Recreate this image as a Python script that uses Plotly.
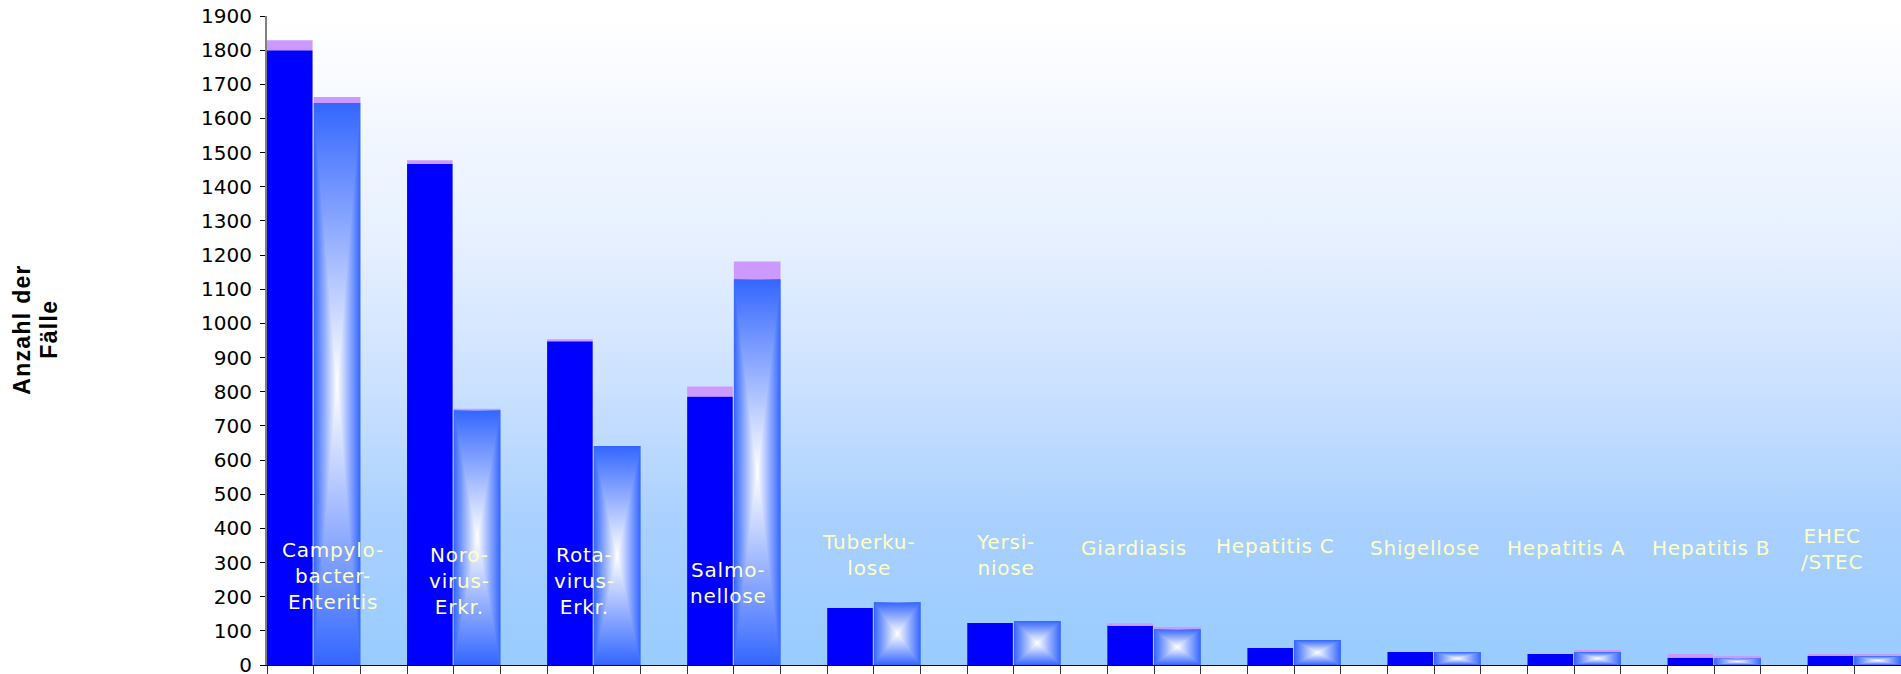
import base64
import plotly.graph_objects as go

# Meldepflichtige Erkrankungen: Fallzahlen zweier Jahre je Erkrankung
categories = [
    "Campylobacter-Enteritis", "Norovirus-Erkr.", "Rotavirus-Erkr.", "Salmonellose",
    "Tuberkulose", "Yersiniose", "Giardiasis", "Hepatitis C", "Shigellose",
    "Hepatitis A", "Hepatitis B", "EHEC/STEC",
]
category_labels = [
    "Campylo-<br>bacter-<br>Enteritis", "Noro-<br>virus-<br>Erkr.", "Rota-<br>virus-<br>Erkr.",
    "Salmo-<br>nellose", "Tuberku-<br>lose", "Yersi-<br>niose", "Giardiasis", "Hepatitis C",
    "Shigellose", "Hepatitis A", "Hepatitis B", "EHEC<br>/STEC",
]

# Jahr 1 (einfarbig) und Jahr 2 (Verlauf), jeweils mit Zusatzfällen (violett)
cases_a = [1800, 1467, 948, 786, 167, 123, 117, 50, 38, 32, 21, 26]
extra_a = [29, 11, 6, 29, 0, 0, 5, 0, 0, 0, 11, 6]
cases_b = [1645, 746, 641, 1129, 184, 129, 105, 73, 38, 38, 20, 26]
extra_b = [18, 4, 0, 52, 0, 0, 6, 0, 0, 6, 6, 6]

y_ticks = list(range(0, 2000, 100))
y_title_lines = ["Anzahl der", "Fälle"]

# label placement inside the plot (category units / axis units)
label_dx = [0.469, 0.376, 0.269, 0.294, 0.297, 0.275, 0.189, 0.203, 0.268, 0.278, 0.31, 0.176]
label_y = [262, 247, 247, 240, 323, 323, 342, 347, 342, 342, 342, 340]
title_x = [-0.150, -0.1335]

SLOT = 1 / 3
GAP = 0.008
idx = list(range(len(categories)))

BLUE_A = "#0000FF"
BLUE_B = "#3366FF"
VIOLET = "#CC99FF"


def svg_uri(svg):
    return "data:image/svg+xml;base64," + base64.b64encode(svg.encode("utf-8")).decode("ascii")


def spaced(text, px):
    return f'<span style="letter-spacing:{px}px">{text}</span>'


# vertical white-to-light-blue wash behind the plot area
bg_svg = """<svg xmlns="http://www.w3.org/2000/svg" width="100" height="100" viewBox="0 0 100 100" preserveAspectRatio="none">
<defs><linearGradient id="g" x1="0" y1="0" x2="0" y2="1">
<stop offset="0" stop-color="#ffffff"/>
<stop offset="0.35" stop-color="#e6f0ff"/>
<stop offset="0.56" stop-color="#cde2ff"/>
<stop offset="0.78" stop-color="#a9d0ff"/>
<stop offset="1" stop-color="#99ccff"/>
</linearGradient></defs>
<rect x="0" y="0" width="100" height="100" fill="url(#g)"/></svg>"""

# rectangular "from centre" fill: white core, blue border
bar_svg = """<svg xmlns="http://www.w3.org/2000/svg" width="100" height="100" viewBox="0 0 100 100" preserveAspectRatio="none">
<defs>
<linearGradient id="h" gradientUnits="userSpaceOnUse" x1="0" y1="0" x2="100" y2="0">
<stop offset="0" stop-color="#3366ff"/><stop offset="0.5" stop-color="#ffffff"/><stop offset="1" stop-color="#3366ff"/>
</linearGradient>
<linearGradient id="v" gradientUnits="userSpaceOnUse" x1="0" y1="0" x2="0" y2="100">
<stop offset="0" stop-color="#3366ff"/><stop offset="0.5" stop-color="#ffffff"/><stop offset="1" stop-color="#3366ff"/>
</linearGradient>
</defs>
<rect x="0" y="0" width="100" height="100" fill="url(#h)"/>
<polygon points="0,0 100,0 50,50" fill="url(#v)"/>
<polygon points="0,100 100,100 50,50" fill="url(#v)"/>
</svg>"""

fig = go.Figure()

fig.add_trace(go.Bar(
    x=idx, y=cases_a, offset=0, width=SLOT - GAP,
    marker=dict(color=BLUE_A, line=dict(width=0)), name="Jahr 1",
    hovertext=categories,
))
fig.add_trace(go.Bar(
    x=idx, y=extra_a, base=cases_a, offset=0, width=SLOT - GAP,
    marker=dict(color=VIOLET, line=dict(width=0)), name="Jahr 1 (zusätzlich)",
    hovertext=categories,
))
fig.add_trace(go.Bar(
    x=idx, y=cases_b, offset=SLOT, width=SLOT,
    marker=dict(color=BLUE_B, line=dict(width=0)), name="Jahr 2",
    hovertext=categories,
))
fig.add_trace(go.Bar(
    x=idx, y=extra_b, base=cases_b, offset=SLOT, width=SLOT,
    marker=dict(color=VIOLET, line=dict(width=0)), name="Jahr 2 (zusätzlich)",
    hovertext=categories,
))

images = [dict(
    source=svg_uri(bg_svg), xref="paper", yref="paper", x=0, y=1,
    sizex=1, sizey=1, sizing="stretch", xanchor="left", yanchor="top", layer="below",
)]
bar_src = svg_uri(bar_svg)
for i, v in zip(idx, cases_b):
    images.append(dict(
        source=bar_src, xref="x", yref="y", x=i + SLOT, y=v,
        sizex=SLOT, sizey=v, sizing="stretch", xanchor="left", yanchor="top", layer="above",
    ))

annotations = []
for i, text, dx, ly in zip(idx, category_labels, label_dx, label_y):
    annotations.append(dict(
        x=i + dx, y=ly, xref="x", yref="y", text=spaced(text, 0.8), showarrow=False,
        xanchor="center", yanchor="middle", align="center",
        font=dict(family="DejaVu Sans", size=20, color="#FFFFC4"),
    ))
for tx, line in zip(title_x, y_title_lines):
    annotations.append(dict(
        x=tx, y=0.518, xref="paper", yref="paper", text=spaced(f"<b>{line}</b>", 1.3),
        showarrow=False, textangle=-90, xanchor="center", yanchor="middle",
        font=dict(family="Liberation Sans", size=23, color="#000000"),
    ))

n_slots = 3 * len(categories) - 1
fig.update_layout(
    width=1901, height=674,
    margin=dict(l=267, r=0, t=16, b=9, autoexpand=False),
    paper_bgcolor="#FFFFFF", plot_bgcolor="#FFFFFF",
    barmode="overlay", showlegend=False,
    images=images, annotations=annotations,
    xaxis=dict(
        range=[0, n_slots * SLOT], showgrid=False, zeroline=False, automargin=False,
        showline=True, linecolor="#000000", linewidth=1,
        ticks="outside", ticklen=8, tickcolor="#333333", tickwidth=1,
        tickvals=[k * SLOT for k in range(n_slots + 1)], showticklabels=False,
    ),
    yaxis=dict(
        range=[0, 1900], tickvals=y_ticks, showgrid=False, zeroline=False, automargin=False,
        showline=True, linecolor="#808080", linewidth=2,
        ticks="outside", ticklen=5, tickcolor="#000000", tickwidth=1,
        tickfont=dict(family="DejaVu Sans", size=20, color="#000000"),
        ticklabelstandoff=4, ticklabeloverflow="allow",
    ),
)

fig.write_html("out.html")
